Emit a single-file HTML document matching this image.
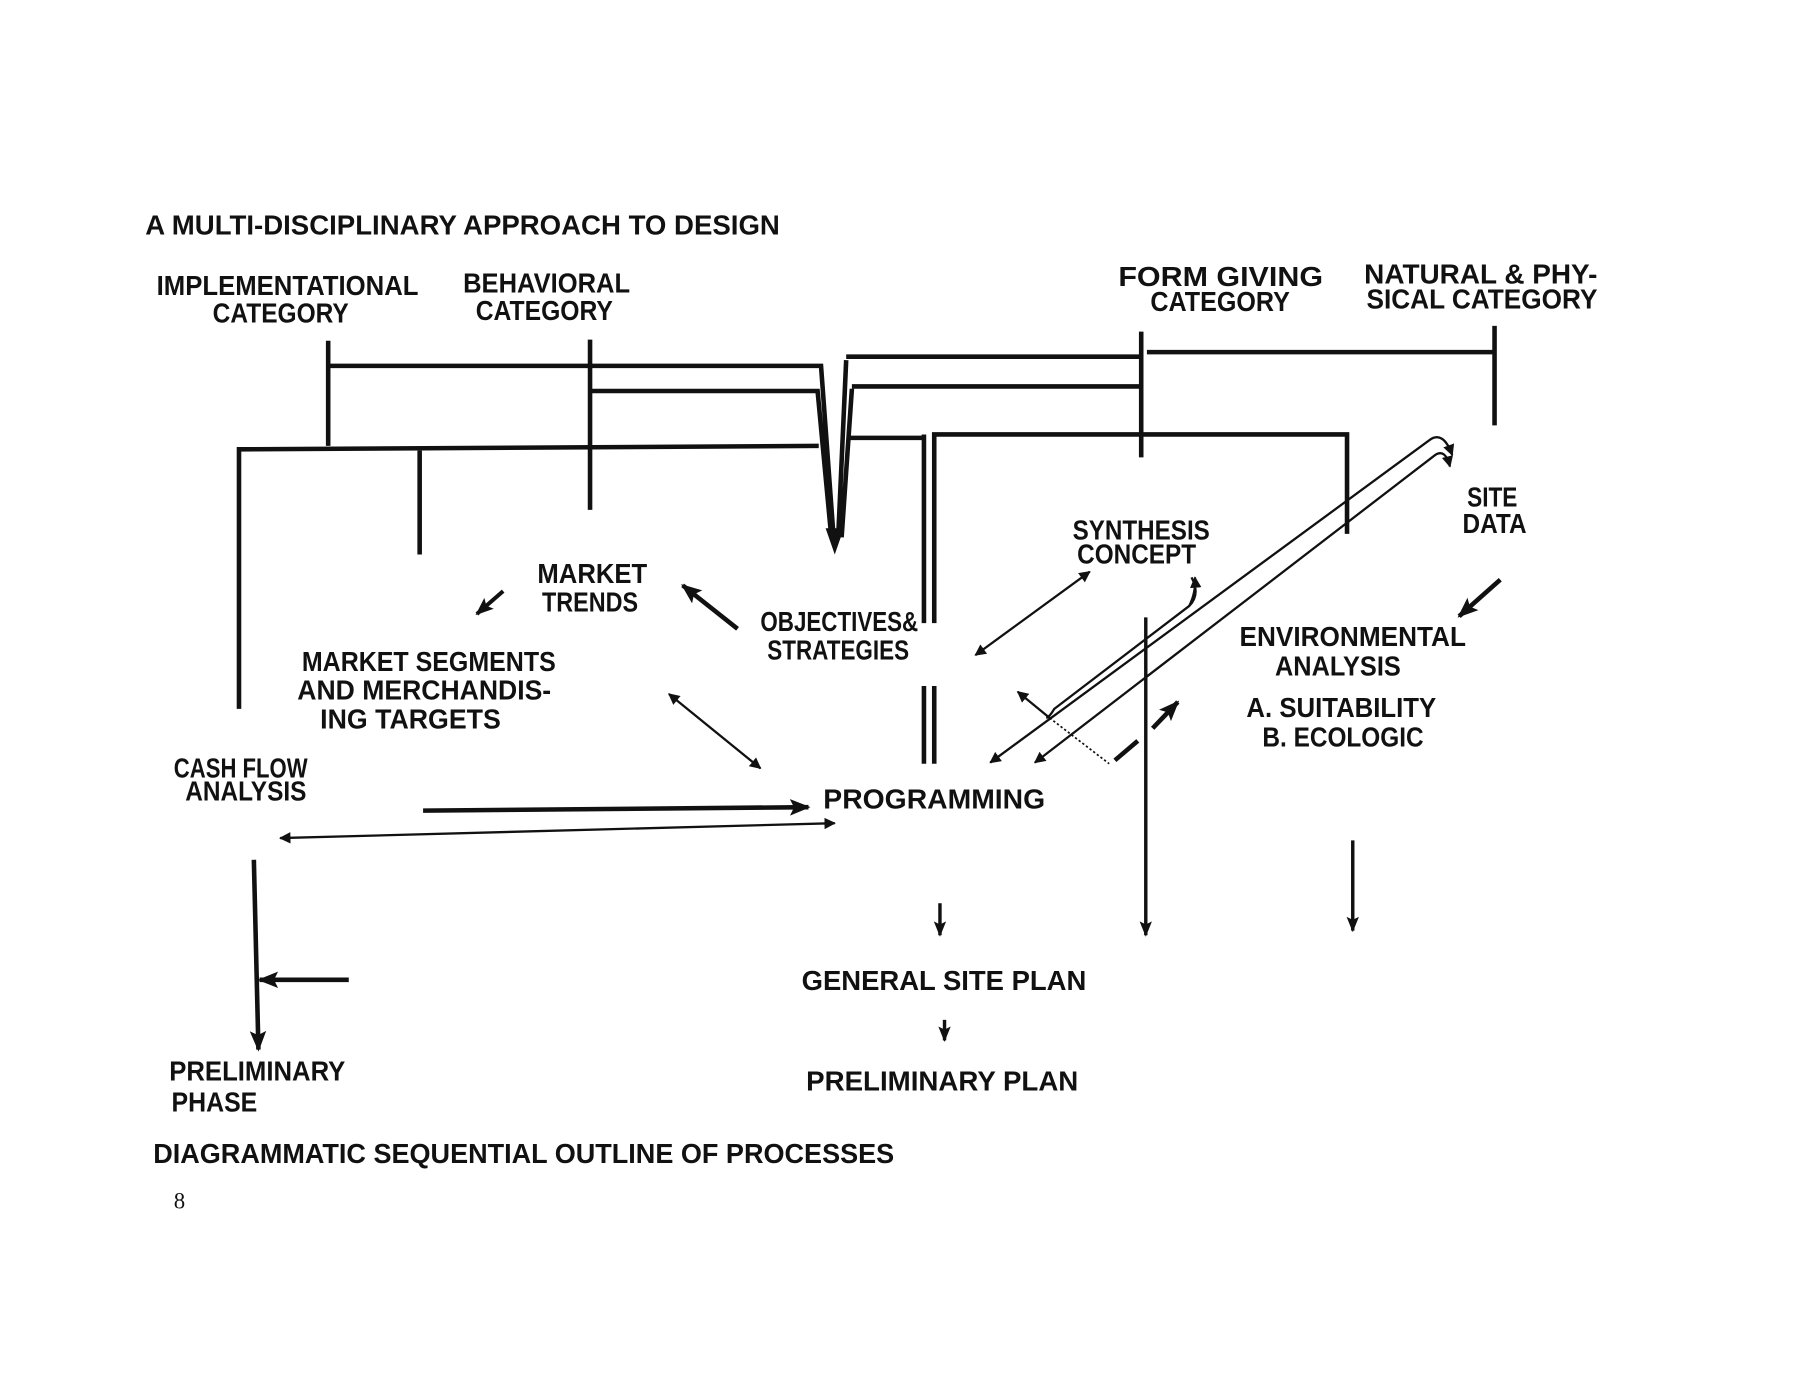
<!DOCTYPE html>
<html><head><meta charset="utf-8"><style>
html,body{margin:0;padding:0;background:#fff;}
svg{display:block;}
text{font-family:"Liberation Sans Narrow","Liberation Sans",sans-serif;font-weight:bold;fill:#111;}
</style></head><body>
<svg width="1793" height="1380" viewBox="0 0 1568 1207" preserveAspectRatio="none" xmlns="http://www.w3.org/2000/svg">
<defs>
<marker id="a" viewBox="0 0 10 10" refX="9" refY="5" markerWidth="5" markerHeight="5" orient="auto-start-reverse"><path d="M0,0 L10,5 L0,10 z" fill="#111"/></marker>
<marker id="s" viewBox="0 0 10 10" refX="9" refY="5" markerWidth="4.5" markerHeight="4.5" orient="auto-start-reverse"><path d="M0,1 L10,5 L0,9 L2,5 z" fill="#111"/></marker>
</defs>
<g font-size="24">
<text x="127" y="205" textLength="555" lengthAdjust="spacingAndGlyphs">A MULTI-DISCIPLINARY APPROACH TO DESIGN</text>
<text x="137" y="258" textLength="229" lengthAdjust="spacingAndGlyphs">IMPLEMENTATIONAL</text>
<text x="186" y="282" textLength="119" lengthAdjust="spacingAndGlyphs">CATEGORY</text>
<text x="405" y="256" textLength="146" lengthAdjust="spacingAndGlyphs">BEHAVIORAL</text>
<text x="416" y="280" textLength="120" lengthAdjust="spacingAndGlyphs">CATEGORY</text>
<text x="978" y="250" textLength="179" lengthAdjust="spacingAndGlyphs">FORM  GIVING</text>
<text x="1006" y="272" textLength="122" lengthAdjust="spacingAndGlyphs">CATEGORY</text>
<text x="1193" y="248" textLength="204" lengthAdjust="spacingAndGlyphs">NATURAL &amp; PHY-</text>
<text x="1195" y="270" textLength="202" lengthAdjust="spacingAndGlyphs">SICAL  CATEGORY</text>
<text x="470" y="510" textLength="96" lengthAdjust="spacingAndGlyphs">MARKET</text>
<text x="474" y="535" textLength="84" lengthAdjust="spacingAndGlyphs">TRENDS</text>
<text x="665" y="552" textLength="138" lengthAdjust="spacingAndGlyphs">OBJECTIVES&amp;</text>
<text x="671" y="577" textLength="124" lengthAdjust="spacingAndGlyphs">STRATEGIES</text>
<text x="264" y="587" textLength="222" lengthAdjust="spacingAndGlyphs">MARKET SEGMENTS</text>
<text x="260" y="612" textLength="222" lengthAdjust="spacingAndGlyphs">AND MERCHANDIS-</text>
<text x="280" y="637" textLength="158" lengthAdjust="spacingAndGlyphs">ING TARGETS</text>
<text x="152" y="680" textLength="117" lengthAdjust="spacingAndGlyphs">CASH FLOW</text>
<text x="162" y="700" textLength="106" lengthAdjust="spacingAndGlyphs">ANALYSIS</text>
<text x="720" y="707" textLength="194" lengthAdjust="spacingAndGlyphs">PROGRAMMING</text>
<text x="938" y="472" textLength="120" lengthAdjust="spacingAndGlyphs">SYNTHESIS</text>
<text x="942" y="493" textLength="104" lengthAdjust="spacingAndGlyphs">CONCEPT</text>
<text x="1283" y="443" textLength="44" lengthAdjust="spacingAndGlyphs">SITE</text>
<text x="1279" y="466" textLength="56" lengthAdjust="spacingAndGlyphs">DATA</text>
<text x="1084" y="565" textLength="198" lengthAdjust="spacingAndGlyphs">ENVIRONMENTAL</text>
<text x="1115" y="591" textLength="110" lengthAdjust="spacingAndGlyphs">ANALYSIS</text>
<text x="1090" y="627" textLength="166" lengthAdjust="spacingAndGlyphs">A. SUITABILITY</text>
<text x="1104" y="653" textLength="141" lengthAdjust="spacingAndGlyphs">B. ECOLOGIC</text>
<text x="701" y="866" textLength="249" lengthAdjust="spacingAndGlyphs">GENERAL  SITE  PLAN</text>
<text x="705" y="954" textLength="238" lengthAdjust="spacingAndGlyphs">PRELIMINARY  PLAN</text>
<text x="148" y="945" textLength="154" lengthAdjust="spacingAndGlyphs">PRELIMINARY</text>
<text x="150" y="972" textLength="75" lengthAdjust="spacingAndGlyphs">PHASE</text>
<text x="134" y="1017" textLength="648" lengthAdjust="spacingAndGlyphs">DIAGRAMMATIC  SEQUENTIAL  OUTLINE  OF  PROCESSES</text>
</g>
<text x="152" y="1057" font-size="20" style="font-family:'Liberation Serif',serif;font-weight:normal">8</text>

<g stroke="#111" fill="none" stroke-width="4">
<path d="M287,298 V390 M287,320 H718 L729,470 M516,297 V446 M516,342 H715 L727,470"/>
<path d="M740,315 L733,470 M740,312 H998 M1003,308 H1307 M745,340 L736,470 M745,338 H998 M998,290 V400 M1307,285 V372"/>
<path d="M209,620 V393 L716,390 M367,393 V485"/>
<path d="M742,383 H808 M808,380 V545 M817,545 V380 H1178 V467"/>
<path d="M808,600 V668 M817,600 V668"/>
</g>
<path d="M722,462 L730,485 L738,462 z" fill="#111"/>

<g stroke="#111" fill="none" stroke-width="2">
<path d="M866,667 L1250,385 Q1262,376 1270,398" marker-start="url(#a)" marker-end="url(#a)"/>
<path d="M905,667 L1255,398 Q1264,392 1268,408" marker-start="url(#a)" marker-end="url(#a)"/>
<path d="M1042,505 Q1050,520 1040,530 L922,620 Q918,627 915,628"/>
<path d="M918,628 L970,668" stroke-dasharray="2,2" stroke-width="1.5"/>
<path d="M585,607 L665,672" marker-start="url(#a)" marker-end="url(#a)"/>
<path d="M853,573 L953,500" marker-start="url(#a)" marker-end="url(#a)"/>
<path d="M245,733 L730,720" marker-start="url(#a)" marker-end="url(#a)"/>
<path d="M918,628 L890,605" marker-end="url(#a)"/>
<path d="M1040,530 Q1046,518 1045,505" marker-end="url(#a)"/>
</g>
<g stroke="#111" fill="none" stroke-width="4">
<path d="M440,517 L417,537" marker-end="url(#s)" stroke-width="3.5"/>
<path d="M645,550 L597,512" marker-end="url(#s)"/>
<path d="M370,709 L707,706" marker-end="url(#s)"/>
<path d="M222,752 L226,918" marker-end="url(#s)"/>
<path d="M305,857 L227,857" marker-end="url(#s)"/>
<path d="M822,790 V818" marker-end="url(#s)" stroke-width="3"/>
<path d="M826,892 V910" marker-end="url(#s)" stroke-width="3"/>
<path d="M1002,540 V818" marker-end="url(#s)" stroke-width="3"/>
<path d="M1183,735 V814" marker-end="url(#s)" stroke-width="3"/>
<path d="M1312,507 L1276,539" marker-end="url(#s)"/>
<path d="M975,665 L995,648"/>
<path d="M1008,637 L1030,614" marker-end="url(#s)"/>
</g>
</svg>
</body></html>
